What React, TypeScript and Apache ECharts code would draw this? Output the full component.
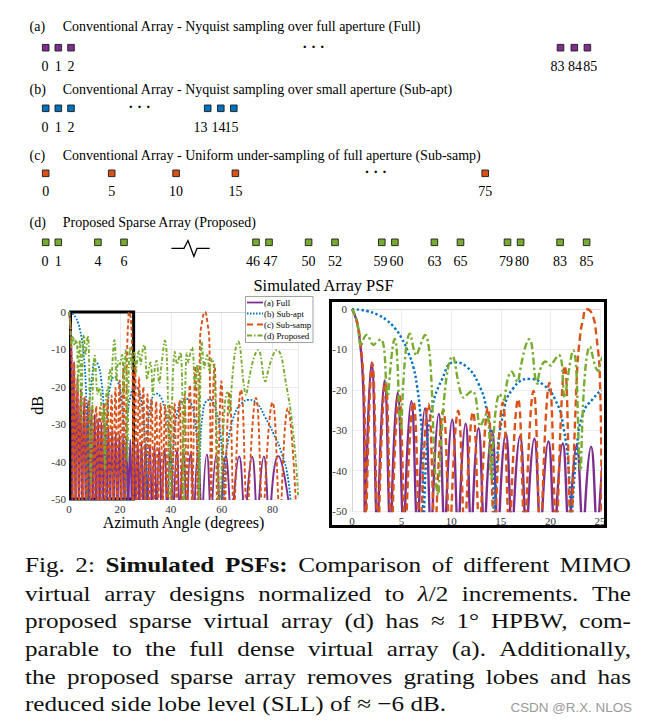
import React, { useEffect, useRef } from 'react';
import * as echarts from 'echarts';

// ---------------- DATA ----------------
// Nulls of the patterns fall below the -50 dB floor of the axes.
const FLOOR = -56;

// Simulated PSF readings: [azimuth angle (deg), dB]
const fullPsf: number[][] = [
  [0, 0], [0.45, -2.8], [0.8, -8], [1.05, -15], [1.2, -26], [1.33, FLOOR],
  [1.98, -13.2], [2.62, FLOOR], [3.28, -17.7], [3.94, FLOOR], [4.6, -20.7], [5.28, FLOOR],
  [5.98, -22.8], [6.68, FLOOR], [7.36, -24.6], [8.05, FLOOR], [8.75, -26.0], [9.42, FLOOR],
  [10.1, -27.4], [10.78, FLOOR], [11.45, -28.4], [12.1, FLOOR], [12.75, -29.5], [13.42, FLOOR],
  [14.1, -30.1], [14.8, FLOOR], [15.5, -30.8], [16.22, FLOOR], [16.94, -31.5], [17.66, FLOOR],
  [18.38, -32.1], [19.09, FLOOR], [19.8, -32.8], [20.52, FLOOR], [21.24, -33.3], [21.95, FLOOR],
  [22.65, -33.8], [23.37, FLOOR], [24.1, -34.1], [24.82, FLOOR], [25.55, -34.4], [26.28, FLOOR],
  [27.0, -34.7], [27.75, FLOOR], [28.5, -35.0], [29.3, FLOOR], [30.1, -35.3], [30.95, FLOOR],
  [31.8, -35.6], [32.7, FLOOR], [33.6, -35.9], [34.55, FLOOR], [35.5, -36.2], [36.55, FLOOR],
  [37.6, -36.5], [38.75, FLOOR], [39.9, -36.8], [41.15, FLOOR], [42.4, -37.1], [43.7, FLOOR],
  [45.0, -37.4], [46.4, FLOOR], [47.8, -37.6], [49.25, FLOOR], [50.7, -37.9], [52.45, FLOOR],
  [54.2, -38.1], [56.05, FLOOR], [57.9, -38.3], [59.75, FLOOR], [61.6, -38.5], [64.25, FLOOR],
  [66.9, -38.6], [69.45, FLOOR], [72.0, -38.7], [74.3, FLOOR], [76.6, -38.6], [79.0, FLOOR],
  [82.2, -38.5], [87.3, FLOOR],
];

const subAptPsf: number[][] = [
  [0, 0], [1.5, -0.5], [2.65, -1.5], [3.5, -2.8], [4.33, -4.8], [5.0, -7.2], [5.68, -10.8],
  [6.2, -14.5], [6.55, -19], [6.85, -25], [7.05, -32], [7.25, FLOOR],
  [7.52, -35], [8.03, -25], [9.04, -17.6], [10.3, -13.2], [11.5, -14.2], [12.73, -18.4],
  [13.58, -25], [14.08, -35], [14.42, FLOOR],
  [14.6, -39], [15.25, -25.8], [16.26, -19.6], [17.9, -17.3], [19.3, -18.8], [20.5, -22.5],
  [21.3, -29], [21.9, -42], [22.1, FLOOR],
  [22.65, -34.9], [23.3, -25.8], [24.3, -22.2], [25.2, -20.3], [26.2, -19.9], [27.3, -20.8],
  [28.5, -24], [29.6, -32], [30.3, FLOOR],
  [31.0, -32], [32.0, -25], [33.0, -22.5], [34.2, -21.8], [35.8, -22.5], [37.5, -25.5],
  [39.0, -31], [40.0, -40], [40.5, FLOOR],
  [41.2, -35], [42.5, -27], [44.3, -24], [46.3, -23.2], [48.0, -24.5], [49.5, -29], [50.5, -38], [51.0, FLOOR],
  [51.6, -36], [52.6, -27], [54.0, -23.8], [55.5, -23.5], [57.3, -25.5], [59.0, -30], [60.2, -40], [60.7, FLOOR],
  [61.5, -40], [62.6, -34.2], [65.2, -27.1], [67.9, -24.4], [70.5, -23.5], [73.8, -24.4], [77.0, -28],
  [80.3, -32.4], [83.6, -37.8], [86.2, -45], [87.5, FLOOR],
];

const subSampPsf: number[][] = [
  [0, 0], [0.5, -3], [0.85, -8.5], [1.1, -15], [1.28, -26], [1.43, FLOOR],
  [2.05, -13.5], [2.7, FLOOR], [3.38, -18], [4.05, FLOOR], [4.75, -21], [5.45, FLOOR],
  [6.2, -23], [6.95, FLOOR], [7.7, -23.5], [8.45, FLOOR], [9.2, -25], [9.95, FLOOR],
  [10.7, -25.2], [11.45, FLOOR], [12.2, -25.5], [12.95, FLOOR], [13.7, -24.5], [14.45, FLOOR],
  [15.2, -23.2], [15.95, FLOOR], [16.75, -22.3], [17.5, FLOOR], [18.3, -20.3], [19.1, FLOOR],
  [19.9, -18.3], [20.7, FLOOR], [21.45, -14], [22.15, FLOOR],
  [22.65, -17.6], [23.0, -6.5], [23.3, -2.5], [23.6, 0], [24.2, -1.2], [24.65, -7], [25.0, -18], [25.25, FLOOR],
  [25.95, -13.5], [26.75, FLOOR], [27.55, -17.5], [28.35, FLOOR], [29.2, -20], [30.0, FLOOR],
  [30.85, -22], [31.65, FLOOR], [32.5, -23.2], [33.35, FLOOR], [34.25, -24], [35.1, FLOOR],
  [36.0, -24.5], [36.9, FLOOR], [37.8, -25], [38.7, FLOOR], [39.6, -25], [40.55, FLOOR],
  [41.5, -24.5], [42.45, FLOOR], [43.45, -23.5], [44.45, FLOOR], [45.45, -22], [46.5, FLOOR],
  [47.5, -19.5], [48.6, FLOOR], [49.7, -14.5], [50.85, FLOOR],
  [51.5, -8], [52.3, -2.5], [53.4, 0], [54.4, -2.8], [55.2, -9], [55.8, FLOOR],
  [57.2, -14], [58.5, FLOOR], [59.9, -18.5], [61.3, FLOOR], [63.1, -21.5], [65.0, FLOOR],
  [67.6, -20.8], [70.3, FLOOR], [73.5, -23], [76.5, FLOOR], [80.0, -24.2], [83.3, FLOOR],
  [86.0, -25.8], [89.5, FLOOR],
];

const proposedPsf: number[][] = [
  [0, 0], [0.47, -2.7], [0.95, -9.3], [1.5, -6.4], [2.2, -8.9], [2.9, -7.5], [3.66, -21.5],
  [4.3, -7.4], [5.0, -29.5], [5.85, -6.1], [6.55, -11.5], [7.35, -6.4], [8.75, -46],
  [10.15, -11.7], [11.3, -22], [12.1, -20.3], [13.0, -29], [13.55, -26], [14.1, -42],
  [14.9, -21], [15.4, -22.5], [16.1, -15.5], [16.77, -18], [17.87, -7.5], [18.7, -18.5],
  [19.5, -13], [20.1, -14], [20.85, -11.4], [21.5, -22], [22.3, -10.2], [23.1, -40],
  [24.0, -9.3], [24.85, -15.3], [25.6, -10.8],
  [26.4, -16], [27.5, -10.5], [28.3, -14], [29.5, -8.8], [30.8, -18], [32.0, -13.5],
  [33.0, -22], [34.4, -13], [35.6, -19], [37.7, -7.6], [39.9, FLOOR], [41.6, -10.6],
  [42.6, -14], [43.8, -10.8], [45.2, FLOOR], [46.3, -11], [47.0, -13.5], [48.3, -9.5],
  [49.6, -20], [50.5, -14], [51.3, FLOOR], [52.2, -8], [53.3, -15], [54.3, -11.5],
  [55.3, -16], [56.2, -12.5], [57.6, -24], [59.3, FLOOR], [61.2, -25], [62.3, -21.5],
  [63.3, -27], [66.5, -7.9], [69.8, -22.2], [74.4, -10.2], [77.3, -18.6], [81.7, -10.2],
  [85.5, -20], [88.5, -35], [90, -49],
];

const seriesNames = ['(a) Full', '(b) Sub-apt', '(c) Sub-samp', '(d) Proposed'];
const xTicksLeft = { min: 0, max: 90, interval: 20 };
const xTicksRight = { min: 0, max: 25, interval: 5 };
const yTicks = { min: -50, max: 0, interval: 10 };
const zoomBox = [[0.6, -50.2], [25.4, 0.8]];

// Array diagrams
const rowTags = ['(a)', '(b)', '(c)', '(d)'];
const rowTitles = [
  'Conventional Array - Nyquist sampling over full aperture (Full)',
  'Conventional Array - Nyquist sampling over small aperture (Sub-apt)',
  'Conventional Array - Uniform under-sampling of full aperture (Sub-samp)',
  'Proposed Sparse Array (Proposed)',
];
const fullElements = [0, 1, 2, 83, 84, 85];
const subAptElements = [0, 1, 2, 13, 14, 15];
const subSampElements = [0, 5, 10, 15, 75];
const proposedElements = [0, 1, 4, 6, 46, 47, 50, 52, 59, 60, 63, 65, 79, 80, 83, 85];

const chartTitle = 'Simulated Array PSF';
const xName = 'Azimuth Angle (degrees)';
const yName = 'dB';
const CAPTION = [
  'Fig. 2: **Simulated** **PSFs:** Comparison of different MIMO',
  'virtual array designs normalized to _λ_/2 increments. The',
  'proposed sparse virtual array (d) has ≈ 1° HPBW, com-',
  'parable to the full dense virtual array (a). Additionally,',
  'the proposed sparse array removes grating lobes and has',
  'reduced side lobe level (SLL) of ≈ −6 dB.',
];
const WATERMARK = 'CSDN @R.X. NLOS';

// ---------------- STYLE / LAYOUT ----------------
const SERIF = '"Liberation Serif", "Times New Roman", serif';
const SANS = '"Liberation Sans", Arial, sans-serif';
const COLORS = ['#7E2F8E', '#0072BD', '#D95319', '#77AC30'];
const LEFT_STYLE = [
  { width: 1.9, type: 'solid' },
  { width: 1.8, type: [1.8, 1.6] },
  { width: 1.9, type: [4, 2.5] },
  { width: 1.9, type: [4, 2, 1.5, 2] },
];
const RIGHT_STYLE = [
  { width: 2.4, type: 'solid' },
  { width: 2.4, type: [2.4, 2.4] },
  { width: 2.4, type: [7, 4] },
  { width: 2.4, type: [7, 3, 2.4, 3] },
];
const LEGEND_DASH: (number[] | null)[] = [null, [1.5, 1.5], [6, 4], [5, 2, 1.5, 2]];
const ROWS = [
  { y: 26.7, sq: 47.7, lab: 66.7, dots: 313.5,
    xs: [45.7, 58.3, 71, 560.5, 574.3, 587.4],
    lx: [45, 58.3, 71, 557.6, 575, 590.2] },
  { y: 89.3, sq: 108.3, lab: 127.3, dots: 139.5,
    xs: [45.7, 58.3, 71, 207.7, 220.8, 233.8],
    lx: [45, 58.3, 71, 200.5, 218.5, 231.5] },
  { y: 155, sq: 173.3, lab: 191.7, dots: 375.7,
    xs: [45.7, 111.7, 176.1, 235.4, 485.2],
    lx: [45.7, 111.7, 176.1, 235.4, 485.2] },
  { y: 222.7, sq: 242.3, lab: 261.7, dots: -1,
    xs: [45.7, 58.3, 97.9, 124, 256, 269, 308.6, 335, 381.8, 394.9, 434.4, 460.5, 507.5, 520.6, 560.1, 586.6],
    lx: [45, 58.3, 97.9, 124, 253, 270.5, 308.6, 335, 380.5, 396.5, 434.4, 460.5, 506, 522, 560.1, 586.6] },
];
const CAP_LINE_Y = [565, 593.3, 620.7, 648.3, 676.7, 704];
const CAP_LEFT = 25;
const CAP_RIGHT = 631;
const CAP_LAST_W = 421;

// split each deep minimum into two very close points so that the smoothed
// curve forms the pointed nulls of the lobes
function sharpenNulls(points: number[][]): number[][] {
  const out: number[][] = [];
  points.forEach((p, i) => {
    const prev = points[i - 1];
    const next = points[i + 1];
    if (prev && next && p[1] < prev[1] && p[1] < next[1]) {
      out.push([p[0] - 0.012, p[1]], [p[0] + 0.012, p[1]]);
    } else {
      out.push(p);
    }
  });
  return out;
}

function txt(x: number, y: number, text: string, extra: any = {}, elExtra: any = {}) {
  return {
    type: 'text', x, y, silent: true, z: 50, ...elExtra,
    style: {
      text, fontFamily: SERIF, fontSize: 14, fill: '#000',
      textAlign: 'left', textVerticalAlign: 'middle', ...extra,
    },
  };
}

type Seg = { t: string; b?: boolean; i?: boolean };
function parseWord(w: string): Seg[] {
  return w.split(/(\*\*[^*]+\*\*|_[^_]+_)/).filter(Boolean).map((s) => {
    if (s.startsWith('**') && s.endsWith('**') && s.length > 4) return { t: s.slice(2, -2), b: true };
    if (s.startsWith('_') && s.endsWith('_') && s.length > 2) return { t: s.slice(1, -1), i: true };
    return { t: s };
  });
}

function buildCaption(): any[] {
  const els: any[] = [];
  const ctx = document.createElement('canvas').getContext('2d') as CanvasRenderingContext2D;
  const size = 22;
  const fontOf = (s: Seg) => `${s.i ? 'italic ' : ''}${s.b ? 'bold ' : ''}${size}px ${SERIF}`;
  const measure = (s: Seg) => { ctx.font = fontOf(s); return ctx.measureText(s.t).width; };
  ctx.font = `${size}px ${SERIF}`;
  const space = ctx.measureText(' ').width;
  const lines = CAPTION.map((l) => l.split(' ').map(parseWord));
  const widths = lines.map((ws) => ws.map((segs) => segs.reduce((a, s) => a + measure(s), 0)));
  const last = lines.length - 1;
  const lastNatural = widths[last].reduce((a, b) => a + b, 0) + space * (widths[last].length - 1);
  let sx = CAP_LAST_W / lastNatural;
  sx = Math.max(0.9, Math.min(1.25, sx));
  lines.forEach((ws, li) => {
    const total = widths[li].reduce((a, b) => a + b, 0);
    const gap = li < last ? ((CAP_RIGHT - CAP_LEFT) / sx - total) / (ws.length - 1) : space;
    let ux = 0;
    ws.forEach((segs) => {
      segs.forEach((s) => {
        els.push(txt(CAP_LEFT + ux * sx, CAP_LINE_Y[li], s.t, {
          fontSize: size, fontWeight: s.b ? 'bold' : 'normal', fontStyle: s.i ? 'italic' : 'normal', fill: '#111',
        }, { scaleX: sx }));
        ux += measure(s);
      });
      ux += gap;
    });
  });
  return els;
}

function buildDiagrams(): any[] {
  const els: any[] = [];
  const elementSets = [fullElements, subAptElements, subSampElements, proposedElements];
  ROWS.forEach((row, r) => {
    els.push(txt(29.5, row.y, rowTags[r]));
    els.push(txt(62.7, row.y, rowTitles[r]));
    elementSets[r].forEach((idx, k) => {
      const cx = row.xs[k];
      els.push({
        type: 'rect', silent: true, z: 50,
        shape: { x: cx - 3.3, y: row.sq - 3.3, width: 6.6, height: 6.6 },
        style: { fill: COLORS[r], stroke: '#1b1b1b', lineWidth: 0.9 },
      });
      els.push(txt(row.lx[k], row.lab, String(idx), { textAlign: 'center' }));
    });
    if (row.dots > 0) {
      els.push(txt(row.dots, row.sq - 1, '· · ·', { textAlign: 'center', fontSize: 15, fontWeight: 'bold' }));
    }
  });
  // break symbol of the sparse array row
  els.push({
    type: 'polyline', silent: true, z: 50,
    shape: { points: [[171.4, 248.3], [184, 248.3], [188, 240.5], [193.9, 256.5], [197, 248.3], [209.7, 248.3]] },
    style: { stroke: '#000', lineWidth: 1.3, fill: null },
  });
  return els;
}

function buildLegend(): any[] {
  const els: any[] = [];
  const ys = [302.5, 313.5, 324.5, 335.5];
  els.push({
    type: 'rect', silent: true, z: 100,
    shape: { x: 245.5, y: 296.5, width: 67.5, height: 46 },
    style: { fill: '#fff', stroke: '#8c8c8c', lineWidth: 0.8 },
  });
  seriesNames.forEach((name, i) => {
    els.push({
      type: 'line', silent: true, z: 101,
      shape: { x1: 247, y1: ys[i], x2: 263, y2: ys[i] },
      style: { stroke: COLORS[i], lineWidth: 1.8, lineDash: LEGEND_DASH[i] || undefined },
    });
    els.push(txt(264, ys[i], name, { fontSize: 8.8 }, { z: 101 }));
  });
  return els;
}

function buildOption(): any {
  const psfs = [fullPsf, subAptPsf, subSampPsf, proposedPsf].map(sharpenNulls);
  const axisLabel = { fontFamily: SERIF, fontSize: 11, color: '#333' };
  const splitLine = { show: true, lineStyle: { color: '#ececec', width: 1 } };
  const axisLine = { show: true, lineStyle: { color: '#d4d4d4', width: 1 } };
  const series: any[] = [];
  [0, 1].forEach((gi) => {
    psfs.forEach((data, i) => {
      const st = gi === 0 ? LEFT_STYLE[i] : RIGHT_STYLE[i];
      series.push({
        name: seriesNames[i], type: 'line', xAxisIndex: gi, yAxisIndex: gi, data,
        showSymbol: false, symbol: 'none', smooth: 0.5, clip: true, silent: true,
        lineStyle: { color: COLORS[i], width: st.width, type: st.type, cap: 'butt' },
      });
    });
  });
  series.push({
    type: 'line', xAxisIndex: 0, yAxisIndex: 0, data: [], z: 20, silent: true,
    markArea: {
      silent: true,
      itemStyle: { color: 'rgba(0,0,0,0)', borderColor: '#000', borderWidth: 3 },
      data: [[{ coord: zoomBox[0] }, { coord: zoomBox[1] }]],
    },
  });
  return {
    animation: false,
    backgroundColor: '#fff',
    title: {
      text: chartTitle, left: 'center', top: 277, padding: 0,
      textStyle: { fontFamily: SERIF, fontSize: 16.5, fontWeight: 'normal', color: '#000' },
    },
    grid: [
      { left: 69, top: 312, width: 229, height: 187 },
      { left: 352, top: 309, width: 248, height: 202 },
    ],
    xAxis: [
      {
        gridIndex: 0, type: 'value', ...xTicksLeft,
        name: xName, nameLocation: 'middle', nameGap: 12,
        nameTextStyle: { fontFamily: SERIF, fontSize: 16, color: '#000' },
        axisLine, axisTick: { show: false }, splitLine,
        axisLabel: { ...axisLabel, margin: 4, showMaxLabel: false },
      },
      {
        gridIndex: 1, type: 'value', ...xTicksRight,
        axisLine, axisTick: { show: false }, splitLine,
        axisLabel: { ...axisLabel, margin: 4 },
      },
    ],
    yAxis: [
      {
        gridIndex: 0, type: 'value', ...yTicks,
        name: yName, nameLocation: 'middle', nameGap: 24, nameRotate: 90,
        nameTextStyle: { fontFamily: SERIF, fontSize: 16, color: '#000' },
        axisLine, axisTick: { show: false }, splitLine,
        axisLabel: { ...axisLabel, margin: 3 },
      },
      {
        gridIndex: 1, type: 'value', ...yTicks,
        axisLine, axisTick: { show: false }, splitLine,
        axisLabel: { ...axisLabel, margin: 5 },
      },
    ],
    series,
    graphic: {
      elements: [
        ...buildDiagrams(),
        ...buildLegend(),
        {
          type: 'rect', silent: true, z: 100,
          shape: { x: 330.5, y: 300.5, width: 275, height: 226 },
          style: { fill: null, stroke: '#000', lineWidth: 3 },
        },
        ...buildCaption(),
        txt(632, 707, WATERMARK, { textAlign: 'right', fontFamily: SANS, fontSize: 13.4, fill: '#9a9a9a' }),
      ],
    },
  };
}

export default function App() {
  const ref = useRef<HTMLDivElement>(null);
  useEffect(() => {
    document.body.style.margin = '0';
    const chart = echarts.init(ref.current as HTMLDivElement, null, { renderer: 'svg' });
    chart.setOption(buildOption());
    return () => chart.dispose();
  }, []);
  return <div ref={ref} style={{ width: 647, height: 723 }} />;
}
